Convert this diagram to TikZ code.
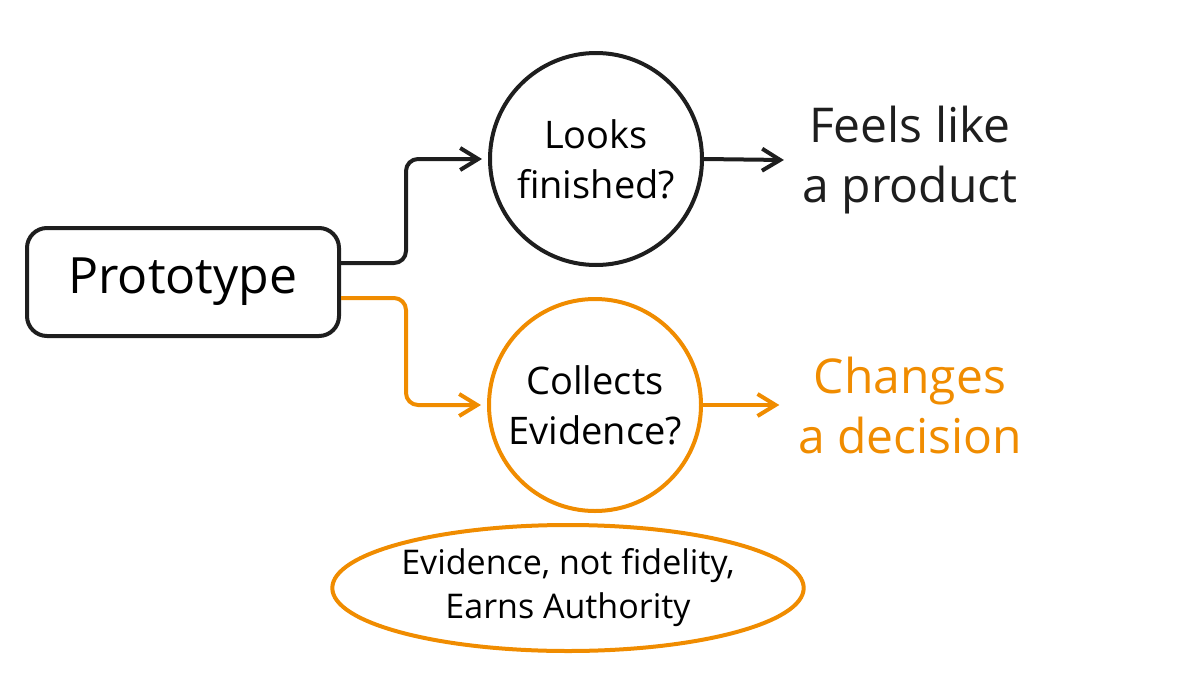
\documentclass[tikz,border=0pt]{standalone}
\usepackage{fontspec}
\setmainfont{Open Sans}
\usetikzlibrary{arrows.meta,shapes.geometric}
\definecolor{sketchorange}{RGB}{240,140,0}
\definecolor{sketchblack}{RGB}{30,30,30}

\begin{document}
\begin{tikzpicture}[x=0.5pt,y=-0.5pt,
    line width=2pt,
    tip/.style={-{Straight Barb[length=9pt,width=11pt,line width=2pt]}},
    bubble/.style={circle,draw,minimum size=106pt,inner sep=0pt,align=center,font=\fontsize{19}{25}\selectfont},
    outcome/.style={align=center,font=\fontsize{24}{30}\selectfont}]
  \useasboundingbox (0,0) rectangle (1200,675);
  \node[draw=sketchblack,rounded corners=10pt,minimum width=156pt,minimum height=54pt,
        font=\fontsize{25}{28}\selectfont] (proto) at (183,282) {Prototype};
  \node[bubble,draw=sketchblack] (looks) at (596,159) {Looks\\finished?};
  \node[bubble,draw=sketchorange] (collects) at (595,405) {Collects\\Evidence?};
  \node[outcome,text=sketchblack] (feels) at (910,160) {Feels like\\a product};
  \node[outcome,text=sketchorange] (changes) at (910,405) {Changes\\a decision};
  \node[ellipse,draw=sketchorange,minimum width=232pt,minimum height=63pt,inner sep=0pt,
        align=center,font=\fontsize{17}{22}\selectfont] (motto) at (568,588)
        {Evidence, not fidelity,\\Earns Authority};
  % connectors
  \draw[tip,sketchblack,rounded corners=6pt] ([yshift=9.5pt]proto.east) -- ++(65,0) |- ([xshift=-3pt]looks.west);
  \draw[tip,sketchorange,rounded corners=6pt] ([yshift=-8pt]proto.east) -- ++(65,0) |- ([xshift=-3pt]collects.west);
  \draw[tip,sketchblack] (looks.east) -- ([xshift=-5pt]feels.west);
  \draw[tip,sketchorange] (collects.east) -- ([xshift=-5pt]changes.west);
\end{tikzpicture}
\end{document}
